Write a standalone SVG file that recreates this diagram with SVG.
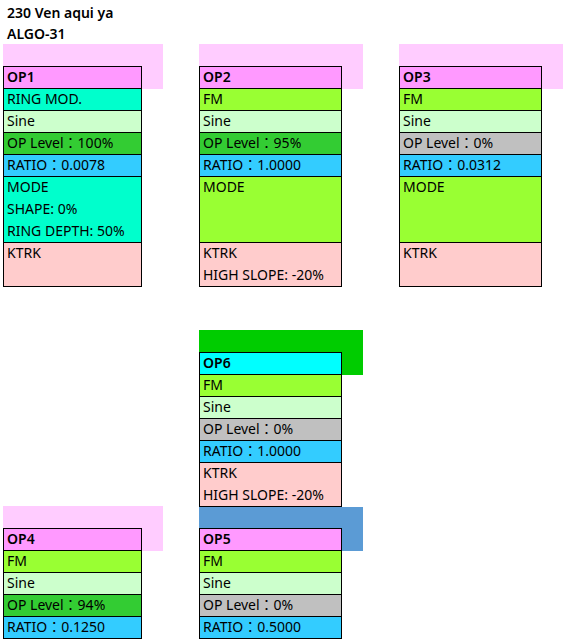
<svg xmlns="http://www.w3.org/2000/svg" width="563" height="639" viewBox="0 0 563 639">
<style>
text{font-family:"Noto Sans","Noto Sans CJK JP",sans-serif;font-size:14px;fill:#000}
.h{font-weight:600}
.c{stroke:#000;stroke-width:1}
.bgp{fill:#FFCCFF}.bgg{fill:#00CC00}.bgb{fill:#5B9BD5}
.hp{fill:#FF99FF}.hc{fill:#00FFFF}
.rm{fill:#00FFCC}.fm{fill:#99FF33}.si{fill:#CCFFCC}
.lg{fill:#33CC33}.lz{fill:#C0C0C0}.ra{fill:#33CCFF}.kt{fill:#FFCCCC}
</style>
<rect width="563" height="639" fill="#fff"/>
<text class="h" x="7" y="18">230 Ven aqui ya</text>
<text class="h" x="7" y="39">ALGO-31</text>
<g id="connectors"/>
<g id="op1">
<rect class="bgp" x="3" y="44" width="160" height="45"/>
<rect class="c hp" x="3.5" y="66.5" width="138" height="22"/>
<rect class="c rm" x="3.5" y="88.5" width="138" height="22"/>
<rect class="c si" x="3.5" y="110.5" width="138" height="22"/>
<rect class="c lg" x="3.5" y="132.5" width="138" height="22"/>
<rect class="c ra" x="3.5" y="154.5" width="138" height="22"/>
<rect class="c rm" x="3.5" y="176.5" width="138" height="66"/>
<rect class="c kt" x="3.5" y="242.5" width="138" height="44"/>
<text class="h" x="7" y="82">OP1</text>
<text x="7" y="104">RING MOD.</text>
<text x="7" y="126">Sine</text>
<text x="7" y="148">OP Level：100%</text>
<text x="7" y="170">RATIO：0.0078</text>
<text x="7" y="192">MODE</text>
<text x="7" y="214">SHAPE: 0%</text>
<text x="7" y="236">RING DEPTH: 50%</text>
<text x="7" y="258">KTRK</text>
</g>
<g id="op2">
<rect class="bgp" x="199" y="44" width="164" height="45"/>
<rect class="c hp" x="199.5" y="66.5" width="142" height="22"/>
<rect class="c fm" x="199.5" y="88.5" width="142" height="22"/>
<rect class="c si" x="199.5" y="110.5" width="142" height="22"/>
<rect class="c lg" x="199.5" y="132.5" width="142" height="22"/>
<rect class="c ra" x="199.5" y="154.5" width="142" height="22"/>
<rect class="c fm" x="199.5" y="176.5" width="142" height="66"/>
<rect class="c kt" x="199.5" y="242.5" width="142" height="44"/>
<text class="h" x="203" y="82">OP2</text>
<text x="203" y="104">FM</text>
<text x="203" y="126">Sine</text>
<text x="203" y="148">OP Level：95%</text>
<text x="203" y="170">RATIO：1.0000</text>
<text x="203" y="192">MODE</text>
<text x="203" y="258">KTRK</text>
<text x="203" y="280">HIGH SLOPE: -20%</text>
</g>
<g id="op3">
<rect class="bgp" x="399" y="44" width="164" height="45"/>
<rect class="c hp" x="399.5" y="66.5" width="142" height="22"/>
<rect class="c fm" x="399.5" y="88.5" width="142" height="22"/>
<rect class="c si" x="399.5" y="110.5" width="142" height="22"/>
<rect class="c lz" x="399.5" y="132.5" width="142" height="22"/>
<rect class="c ra" x="399.5" y="154.5" width="142" height="22"/>
<rect class="c fm" x="399.5" y="176.5" width="142" height="66"/>
<rect class="c kt" x="399.5" y="242.5" width="142" height="44"/>
<text class="h" x="403" y="82">OP3</text>
<text x="403" y="104">FM</text>
<text x="403" y="126">Sine</text>
<text x="403" y="148">OP Level：0%</text>
<text x="403" y="170">RATIO：0.0312</text>
<text x="403" y="192">MODE</text>
<text x="403" y="258">KTRK</text>
</g>
<g id="op6">
<rect class="bgg" x="199" y="330" width="164" height="45"/>
<rect class="c hc" x="199.5" y="352.5" width="142" height="22"/>
<rect class="c fm" x="199.5" y="374.5" width="142" height="22"/>
<rect class="c si" x="199.5" y="396.5" width="142" height="22"/>
<rect class="c lz" x="199.5" y="418.5" width="142" height="22"/>
<rect class="c ra" x="199.5" y="440.5" width="142" height="22"/>
<rect class="c kt" x="199.5" y="462.5" width="142" height="44"/>
<text class="h" x="203" y="368">OP6</text>
<text x="203" y="390">FM</text>
<text x="203" y="412">Sine</text>
<text x="203" y="434">OP Level：0%</text>
<text x="203" y="456">RATIO：1.0000</text>
<text x="203" y="478">KTRK</text>
<text x="203" y="500">HIGH SLOPE: -20%</text>
</g>
<g id="op4">
<rect class="bgp" x="3" y="506" width="160" height="45"/>
<rect class="c hp" x="3.5" y="528.5" width="138" height="22"/>
<rect class="c fm" x="3.5" y="550.5" width="138" height="22"/>
<rect class="c si" x="3.5" y="572.5" width="138" height="22"/>
<rect class="c lg" x="3.5" y="594.5" width="138" height="22"/>
<rect class="c ra" x="3.5" y="616.5" width="138" height="22"/>
<text class="h" x="7" y="544">OP4</text>
<text x="7" y="566">FM</text>
<text x="7" y="588">Sine</text>
<text x="7" y="610">OP Level：94%</text>
<text x="7" y="632">RATIO：0.1250</text>
</g>
<g id="op5">
<rect class="bgb" x="199" y="507" width="164" height="44"/>
<rect class="c hp" x="199.5" y="528.5" width="142" height="22"/>
<rect class="c fm" x="199.5" y="550.5" width="142" height="22"/>
<rect class="c si" x="199.5" y="572.5" width="142" height="22"/>
<rect class="c lz" x="199.5" y="594.5" width="142" height="22"/>
<rect class="c ra" x="199.5" y="616.5" width="142" height="22"/>
<text class="h" x="203" y="544">OP5</text>
<text x="203" y="566">FM</text>
<text x="203" y="588">Sine</text>
<text x="203" y="610">OP Level：0%</text>
<text x="203" y="632">RATIO：0.5000</text>
</g>
</svg>
